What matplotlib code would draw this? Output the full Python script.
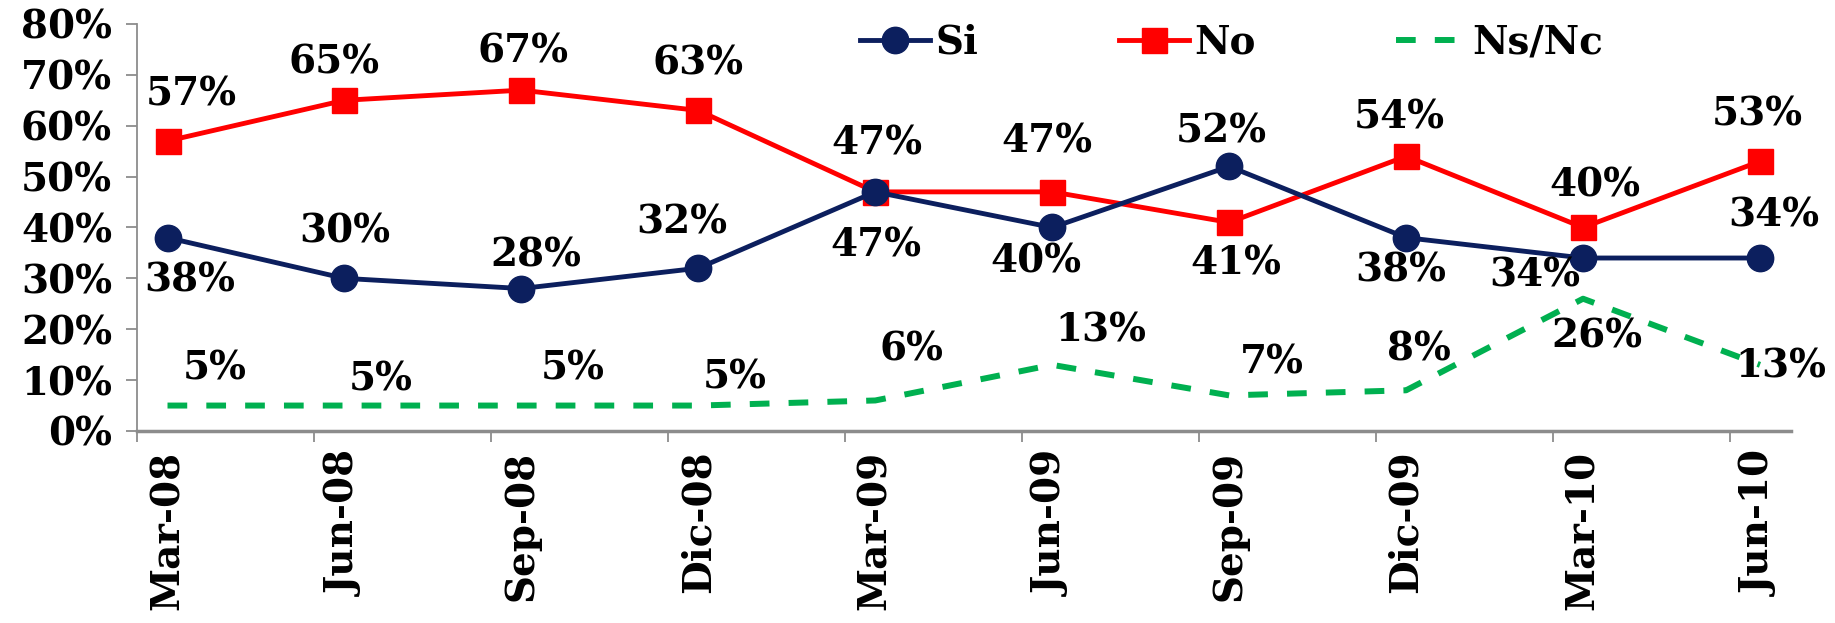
import matplotlib
matplotlib.use('Agg')
import matplotlib.pyplot as plt
import numpy as np

categories = ['Mar-08', 'Jun-08', 'Sep-08', 'Dic-08', 'Mar-09', 'Jun-09', 'Sep-09', 'Dic-09', 'Mar-10', 'Jun-10']
si = [38, 30, 28, 32, 47, 40, 52, 38, 34, 34]
no = [57, 65, 67, 63, 47, 47, 41, 54, 40, 53]
nsnc = [5, 5, 5, 5, 6, 13, 7, 8, 26, 13]
yticks = [0, 10, 20, 30, 40, 50, 60, 70, 80]

# label offsets in pixels (layout only)
si_off = [(22, -43), (0, 47), (14, 33), (-17, 46), (1, -54), (-16, -34), (-8, 35), (-5, -33), (-48, -17), (14, 43)]
no_off = [(24, 46), (-10, 38), (2, 39), (0, 47), (2, 48), (-5, 50), (7, -41), (-7, 39), (12, 42), (-3, 47)]
ns_off = [(47, 37), (36, 26), (51, 37), (36, 28), (36, 51), (49, 34), (43, 33), (13, 41), (14, -38), (21, -2)]

plt.rcParams['font.family'] = ['DejaVu Serif']
plt.rcParams['font.weight'] = 'bold'
FS = 28

fig = plt.figure(figsize=(18.35, 6.23), dpi=100)
ax = fig.add_axes([0.0747, 0.3082, 0.976 - 0.0747, 0.9615 - 0.3082])
x = np.arange(len(categories))
NAVY = '#0C1F5E'
RED = '#FF0000'
GREEN = '#00B050'

ax.plot(x, np.array(si) / 100, color=NAVY, lw=3.5, marker='o', ms=19, label='Si', clip_on=False, zorder=4)
ax.plot(x, np.array(no) / 100, color=RED, lw=3.5, marker='s', ms=18, label='No', clip_on=False, zorder=3)
ax.plot(x, np.array(nsnc) / 100, color=GREEN, lw=4.3, ls=(0, (3.3, 3.2)), label='Ns/Nc', clip_on=False, zorder=2)

for series, offs in ((si, si_off), (no, no_off), (nsnc, ns_off)):
    for xi, v, (dx, dy) in zip(x, series, offs):
        ax.annotate(f'{v}%', (xi, v / 100), xytext=(dx, dy), textcoords='offset pixels',
                    ha='center', va='center', fontsize=FS, fontweight='bold', color='black', zorder=6)

ax.set_ylim(0, 0.8)
ax.set_xlim(-0.172, 9.175)
ax.set_yticks(np.array(yticks) / 100)
ax.set_yticklabels([f'{t}%' for t in yticks], fontsize=FS, fontweight='bold')
ax.set_xticks(x)
ax.set_xticklabels(categories, rotation=90, fontsize=FS, fontweight='bold')
ax.set_xticks(x - 0.172, minor=True)

for s in ('top', 'right'):
    ax.spines[s].set_visible(False)
ax.spines['left'].set_color('#8C8C8C')
ax.spines['left'].set_linewidth(1.3)
ax.spines['bottom'].set_color('#8C8C8C')
ax.spines['bottom'].set_linewidth(2.5)

ax.tick_params(axis='y', direction='out', length=8, width=1.3, color='#8C8C8C', pad=10)
ax.tick_params(axis='x', which='major', length=0, pad=14)
ax.tick_params(axis='x', which='minor', direction='out', length=8, width=1.3, color='#8C8C8C')

leg = fig.legend(loc='center left', bbox_to_anchor=(0.4687, 0.931), ncol=3, frameon=False,
                 prop={'size': FS, 'weight': 'bold'}, borderpad=0, borderaxespad=0,
                 handlelength=1.8, handletextpad=0.15, columnspacing=3.6)

fig.savefig('out.png', dpi=100)
